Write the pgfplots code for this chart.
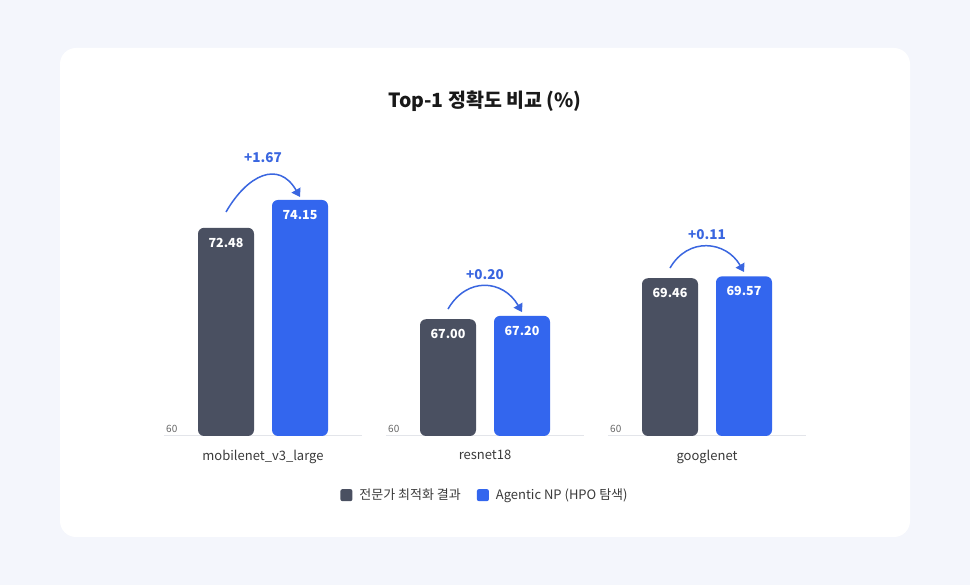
\documentclass[border=0pt]{standalone}
\usepackage{fontspec}
\setmainfont{Noto Sans CJK KR}
\usepackage{pgfplots}
\pgfplotsset{compat=1.18}
\usetikzlibrary{arrows.meta}

\definecolor{pagebg}{HTML}{F4F6FC}
\definecolor{darkbar}{HTML}{4A5061}
\definecolor{bluebar}{HTML}{3366EE}
\definecolor{gainblue}{HTML}{3A66E0}
\definecolor{basegray}{HTML}{E3E5EA}
\definecolor{labeltext}{HTML}{3A3A3A}
\definecolor{ticktext}{HTML}{666666}

\pgfplotsset{
  panel/.style={
    scale only axis, width=198pt, height=300.24pt,
    xmin=0, xmax=198, ymin=60, ymax=78,
    axis line style={draw=none},
    ytick=\empty, xtick={99}, major tick length=0pt,
    xticklabel style={font=\fontsize{13}{15}\selectfont, text=labeltext, yshift=-11pt},
    /pgf/number format/assume math mode=true,
    point meta=y,
    nodes near coords={\pgfmathprintnumber[fixed,zerofill,precision=2]{\pgfplotspointmeta}},
    every node near coord/.append style={text=white,
      font=\bfseries\fontsize{12.5}{14}\selectfont, anchor=center, yshift=-15pt},
  },
  barA/.style={ybar, bar width=56pt, bar shift=0pt, fill=darkbar, draw=none, rounded corners=6pt,
    legend image code/.code={\fill[darkbar, rounded corners=2pt] (0pt,-6pt) rectangle (12pt,6pt);}},
  barB/.style={ybar, bar width=56pt, bar shift=0pt, fill=bluebar, draw=none, rounded corners=6pt,
    legend image code/.code={\fill[bluebar, rounded corners=2pt] (0pt,-6pt) rectangle (12pt,6pt);}},
}
\tikzset{
  gain/.style={gainblue, line width=1.5pt, -{Triangle[width=10pt,length=8pt]}},
  gainlabel/.style={text=gainblue, font=\bfseries\fontsize{13.5}{15}\selectfont},
  basetick/.style={text=ticktext, font=\fontsize{10}{12}\selectfont, anchor=south west, inner sep=2pt, yshift=1.5pt},
}

\begin{document}
\begin{tikzpicture}
\fill[pagebg] (0pt,0pt) rectangle (970pt,585pt);
\fill[white, rounded corners=16pt] (60pt,48pt) rectangle (910pt,537pt);
\node[font=\bfseries\fontsize{19.5}{22}\selectfont, text=black!90] at (485pt,484pt) {Top-1 정확도 비교 (\%)};

% mobilenet_v3_large
\begin{axis}[panel, at={(164pt,149pt)}, anchor=south west, xticklabels={mobilenet\_v3\_large}]
  \draw[basegray, line width=1pt] (axis cs:0,60) -- (axis cs:198,60);
  \addplot[barA] coordinates {(62,72.48)};
  \addplot[barB] coordinates {(136,74.15)};
  \node[basetick] at (axis cs:0,60) {60};
  \draw[gain] (axis cs:62,73.43) to[out=60,in=120,looseness=1.45] (axis cs:136,74.33);
  \node[gainlabel] at (axis cs:99,76.67) {+1.67};
\end{axis}

% resnet18
\begin{axis}[panel, at={(386pt,149pt)}, anchor=south west, xticklabels={resnet18},
  legend style={at={(0.5,-0.197)}, anchor=center, draw=none, fill=none,
    legend columns=2, font=\fontsize{13}{15}\selectfont, text=labeltext,
    /tikz/every odd column/.append style={column sep=5pt},
    /tikz/every even column/.append style={column sep=14pt}},
  legend cell align=left]
  \draw[basegray, line width=1pt] (axis cs:0,60) -- (axis cs:198,60);
  \addplot[barA] coordinates {(62,67.00)};
  \addlegendentry{전문가 최적화 결과}
  \addplot[barB] coordinates {(136,67.20)};
  \addlegendentry{Agentic NP (HPO 탐색)}
  \node[basetick] at (axis cs:0,60) {60};
  \draw[gain] (axis cs:62,67.61) to[out=60,in=120,looseness=1.3] (axis cs:136,67.43);
  \node[gainlabel] at (axis cs:99,69.65) {+0.20};
\end{axis}

% googlenet
\begin{axis}[panel, at={(608pt,149pt)}, anchor=south west, xticklabels={googlenet}]
  \draw[basegray, line width=1pt] (axis cs:0,60) -- (axis cs:198,60);
  \addplot[barA] coordinates {(62,69.46)};
  \addplot[barB] coordinates {(136,69.57)};
  \node[basetick] at (axis cs:0,60) {60};
  \draw[gain] (axis cs:62,70.07) to[out=60,in=120,looseness=1.25] (axis cs:136,69.83);
  \node[gainlabel] at (axis cs:99,72.05) {+0.11};
\end{axis}
\end{tikzpicture}
\end{document}
